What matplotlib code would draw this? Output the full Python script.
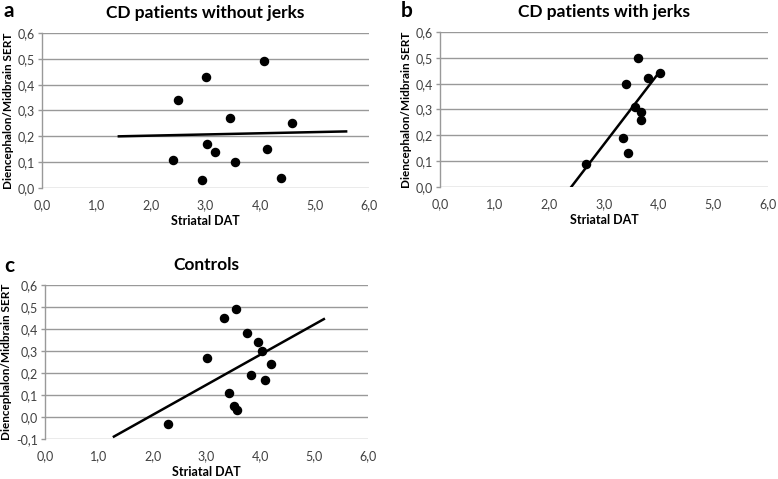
import matplotlib.pyplot as plt
from matplotlib.ticker import FuncFormatter

# panel a: CD patients without jerks
a_x = [2.49, 3.01, 4.07, 3.45, 4.59, 3.03, 3.17, 2.40, 3.55, 4.12, 2.94, 4.38]
a_y = [0.34, 0.43, 0.49, 0.27, 0.25, 0.17, 0.14, 0.11, 0.10, 0.15, 0.03, 0.04]
a_fit_x = [1.41, 5.58]
a_fit_y = [0.200, 0.219]

# panel b: CD patients with jerks
b_x = [3.62, 4.03, 3.81, 3.40, 3.57, 3.68, 3.67, 3.34, 3.43, 2.67]
b_y = [0.50, 0.44, 0.42, 0.40, 0.31, 0.29, 0.26, 0.19, 0.13, 0.09]
b_fit_x = [2.40, 3.98]
b_fit_y = [0.0, 0.436]

# panel c: controls
c_x = [3.54, 3.32, 3.75, 3.96, 4.03, 3.01, 4.19, 3.82, 4.09, 3.42, 3.52, 3.56, 2.28]
c_y = [0.49, 0.45, 0.38, 0.34, 0.30, 0.27, 0.24, 0.19, 0.17, 0.11, 0.05, 0.03, -0.03]
c_fit_x = [1.28, 5.18]
c_fit_y = [-0.089, 0.445]

plt.rcParams['font.family'] = ['Lato', 'DejaVu Sans']

W, H = 778, 479
fig = plt.figure(figsize=(W / 100, H / 100), dpi=100)


def add_axes(left, right, top, bottom):
    return fig.add_axes([left / W, 1 - bottom / H, (right - left) / W, (bottom - top) / H])


comma = FuncFormatter(lambda v, p: ('%.1f' % v).replace('.', ','))


def draw(ax, xs, ys, fx, fy, title, ymin):
    ax.scatter(xs, ys, s=34, c='black', zorder=3, clip_on=False)
    ax.plot(fx, fy, color='black', lw=1.8, zorder=2)
    ax.set_xlim(0, 6)
    ax.set_ylim(ymin, 0.6)
    ax.set_xticks([0, 1, 2, 3, 4, 5, 6])
    yt = [round(ymin + 0.1 * i, 1) for i in range(int(round((0.6 - ymin) / 0.1)) + 1)]
    ax.set_yticks(yt)
    ax.xaxis.set_major_formatter(comma)
    ax.yaxis.set_major_formatter(comma)
    for s in ['top', 'right', 'bottom']:
        ax.spines[s].set_visible(False)
    ax.spines['left'].set_color('#999999')
    ax.spines['left'].set_linewidth(1)
    ax.grid(axis='y', color='#999999', lw=1)
    ax.set_axisbelow(True)
    ax.tick_params(axis='x', length=0, pad=8, labelsize=9, labelcolor='#404040')
    ax.tick_params(axis='y', length=3, width=1, color='#999999', pad=2,
                   labelsize=9, labelcolor='#404040')
    ax.set_title(title, fontsize=12.5, fontweight='bold', pad=11)
    ax.set_xlabel('Striatal DAT', fontsize=9, fontweight='bold', labelpad=3)
    ax.set_ylabel('Diencephalon/Midbrain SERT', fontsize=8.5, fontweight='bold', labelpad=3)


ax_a = add_axes(42, 369, 33, 188)
draw(ax_a, a_x, a_y, a_fit_x, a_fit_y, 'CD patients without jerks', 0.0)
ax_b = add_axes(440, 768, 32, 187)
draw(ax_b, b_x, b_y, b_fit_x, b_fit_y, 'CD patients with jerks', 0.0)
ax_c = add_axes(45, 368, 285, 439)
draw(ax_c, c_x, c_y, c_fit_x, c_fit_y, 'Controls', -0.1)

fig.text(4 / W, 1 - 11 / H, 'a', fontsize=15, fontweight='bold', va='center')
fig.text(401 / W, 1 - 11 / H, 'b', fontsize=15, fontweight='bold', va='center')
fig.text(4 / W, 1 - 266 / H, 'c', fontsize=15, fontweight='bold', va='center')

fig.savefig('out.png', dpi=100)
